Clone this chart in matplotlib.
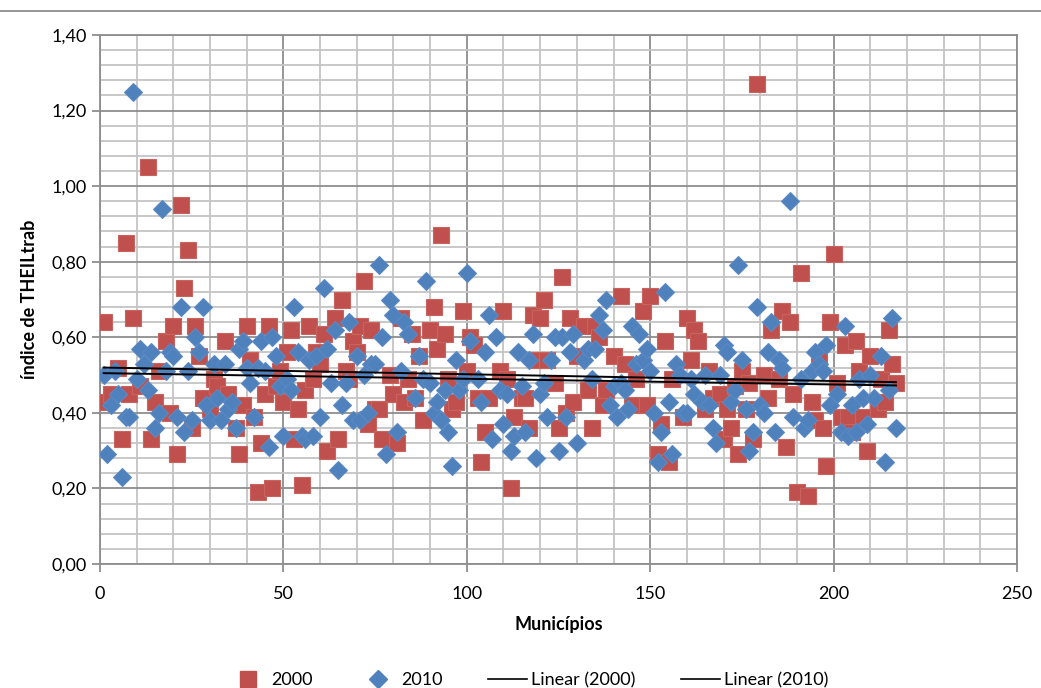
import numpy as np
import matplotlib
matplotlib.use("Agg")
import matplotlib.pyplot as plt
from matplotlib.lines import Line2D
from matplotlib.ticker import MultipleLocator, FuncFormatter

# ---- data ----
x2000 = [1, 2, 3, 5, 6, 7, 8, 9, 11, 13, 14, 15, 16, 18, 19, 20, 21, 22, 23, 24, 25, 26, 27, 28, 30, 31, 32, 34, 35, 37, 38,
         39, 40, 41, 42, 43, 44, 45, 46, 47, 48, 49, 50, 51, 52, 53, 54, 55, 56, 57, 58, 59, 60, 61, 62, 64, 65, 66, 67, 68, 69, 70, 71, 72, 73, 74, 75, 76, 77,
         79, 80, 81, 82, 83, 84, 85, 86, 87, 88, 90, 91, 92, 93, 94, 95, 96, 97, 99, 100, 101, 102, 103, 104, 105, 106, 109, 110, 111, 112, 113, 115,
         116, 117, 118, 119, 120, 121, 122, 124, 125, 126, 127, 128, 129, 130, 132, 133, 134, 135, 136, 137, 138, 140, 142, 143, 145, 146, 148, 149, 150, 152, 153, 154, 155, 156,
         159, 160, 161, 162, 163, 165, 166, 167, 169, 170, 171, 172, 173, 174, 175, 176, 177, 178, 179, 181, 182, 183, 185, 186, 187, 188, 189, 190, 191, 193, 194, 195,
         196, 197, 198, 199, 200, 201, 202, 203, 204, 205, 206, 207, 208, 209, 210, 212, 213, 214, 215, 216, 217]
y2000 = [0.64, 0.43, 0.45, 0.52, 0.33, 0.85, 0.45, 0.65, 0.47, 1.05, 0.33, 0.43, 0.51, 0.59, 0.40, 0.63, 0.29, 0.95, 0.73, 0.83, 0.36, 0.63, 0.55, 0.44, 0.41, 0.49, 0.47, 0.59, 0.45, 0.36, 0.29,
         0.42, 0.63, 0.54, 0.39, 0.19, 0.32, 0.45, 0.63, 0.20, 0.47, 0.51, 0.43, 0.56, 0.62, 0.33, 0.41, 0.21, 0.46, 0.63, 0.49, 0.56, 0.53, 0.61, 0.30, 0.65, 0.33, 0.70, 0.51, 0.49, 0.59, 0.56, 0.63, 0.75, 0.37, 0.62, 0.41, 0.41, 0.33,
         0.50, 0.45, 0.32, 0.65, 0.43, 0.49, 0.61, 0.44, 0.55, 0.38, 0.62, 0.68, 0.57, 0.87, 0.61, 0.49, 0.41, 0.43, 0.67, 0.51, 0.60, 0.58, 0.44, 0.27, 0.35, 0.44, 0.51, 0.67, 0.49, 0.20, 0.39, 0.44,
         0.44, 0.36, 0.66, 0.54, 0.65, 0.70, 0.54, 0.48, 0.36, 0.76, 0.40, 0.65, 0.43, 0.55, 0.63, 0.46, 0.36, 0.63, 0.60, 0.42, 0.46, 0.55, 0.71, 0.53, 0.42, 0.49, 0.67, 0.42, 0.71, 0.29, 0.37, 0.59, 0.27, 0.49,
         0.39, 0.65, 0.54, 0.62, 0.59, 0.41, 0.51, 0.44, 0.45, 0.33, 0.41, 0.36, 0.47, 0.29, 0.51, 0.41, 0.48, 0.33, 1.27, 0.50, 0.44, 0.62, 0.49, 0.67, 0.31, 0.64, 0.45, 0.19, 0.77, 0.18, 0.43, 0.38,
         0.55, 0.36, 0.26, 0.64, 0.82, 0.48, 0.39, 0.58, 0.39, 0.35, 0.59, 0.51, 0.39, 0.30, 0.55, 0.41, 0.49, 0.43, 0.62, 0.53, 0.48]

x2010 = [1, 2, 3, 4, 5, 6, 7, 8, 9, 10, 11, 12, 13, 14, 15, 16, 17, 18, 19, 20, 21, 22, 23, 24, 25, 26, 27, 28, 29, 30, 31, 32, 33, 34, 35, 36, 37, 38,
         39, 40, 41, 42, 43, 44, 45, 46, 47, 48, 49, 50, 51, 52, 53, 54, 55, 56, 57, 58, 59, 60, 61, 62, 63, 64, 65, 66, 67, 68, 69, 70, 71, 72, 73, 74, 75, 76, 77, 78,
         79, 80, 81, 82, 83, 84, 86, 87, 88, 89, 90, 91, 92, 93, 94, 95, 96, 97, 98, 99, 100, 101, 103, 104, 105, 106, 107, 108, 109, 110, 111, 112, 113, 114, 115, 116,
         117, 118, 119, 120, 121, 122, 123, 124, 125, 126, 127, 128, 129, 130, 132, 133, 134, 135, 136, 137, 138, 139, 140, 141, 142, 143, 144, 145, 146, 147, 148, 149, 150, 151, 152, 153, 154, 155, 156, 157,
         158, 159, 160, 161, 162, 164, 165, 166, 167, 168, 169, 170, 171, 172, 173, 174, 175, 176, 177, 178, 179, 180, 181, 182, 183, 184, 185, 186, 188, 189, 191, 192, 193, 194, 195, 196, 197, 198, 199,
         201, 202, 203, 204, 205, 206, 207, 208, 209, 210, 211, 213, 214, 215, 216, 217]
y2010 = [0.50, 0.29, 0.42, 0.51, 0.45, 0.23, 0.39, 0.39, 1.25, 0.49, 0.57, 0.53, 0.46, 0.56, 0.36, 0.40, 0.94, 0.51, 0.56, 0.55, 0.39, 0.68, 0.35, 0.51, 0.38, 0.60, 0.56, 0.68, 0.42, 0.38, 0.53, 0.44, 0.38, 0.53, 0.41, 0.43, 0.36, 0.57,
         0.59, 0.52, 0.48, 0.39, 0.52, 0.59, 0.51, 0.31, 0.60, 0.55, 0.47, 0.34, 0.49, 0.46, 0.68, 0.56, 0.34, 0.33, 0.54, 0.34, 0.55, 0.39, 0.73, 0.57, 0.48, 0.62, 0.25, 0.42, 0.48, 0.64, 0.38, 0.55, 0.38, 0.50, 0.40, 0.53, 0.53, 0.79, 0.60, 0.29,
         0.70, 0.66, 0.35, 0.51, 0.64, 0.61, 0.44, 0.55, 0.49, 0.75, 0.48, 0.40, 0.43, 0.38, 0.46, 0.35, 0.26, 0.54, 0.46, 0.49, 0.77, 0.59, 0.49, 0.43, 0.56, 0.66, 0.33, 0.60, 0.46, 0.37, 0.45, 0.30, 0.34, 0.56, 0.47, 0.35,
         0.54, 0.61, 0.28, 0.45, 0.48, 0.39, 0.54, 0.60, 0.30, 0.60, 0.39, 0.56, 0.61, 0.32, 0.54, 0.57, 0.49, 0.57, 0.66, 0.62, 0.70, 0.42, 0.47, 0.39, 0.48, 0.46, 0.41, 0.63, 0.53, 0.61, 0.54, 0.57, 0.51, 0.40, 0.27, 0.35, 0.72, 0.43, 0.29, 0.53,
         0.50, 0.40, 0.40, 0.49, 0.45, 0.43, 0.50, 0.42, 0.36, 0.32, 0.50, 0.58, 0.56, 0.43, 0.46, 0.79, 0.54, 0.41, 0.30, 0.35, 0.68, 0.42, 0.40, 0.56, 0.64, 0.35, 0.54, 0.52, 0.96, 0.39, 0.49, 0.36, 0.38, 0.51, 0.56, 0.53, 0.51, 0.58, 0.42,
         0.45, 0.35, 0.63, 0.34, 0.42, 0.35, 0.49, 0.44, 0.37, 0.50, 0.44, 0.55, 0.27, 0.46, 0.65, 0.36]

series_labels = ["2000", "2010", "Linear (2000)", "Linear (2010)"]
x_label = "Municípios"
y_label = "índice de THEILtrab"

RED = "#C0504D"
BLUE = "#4F81BD"
FONT = ["Lato", "DejaVu Sans"]

plt.rcParams["font.family"] = FONT

fig = plt.figure(figsize=(10.41, 6.88), dpi=100)
ax = fig.add_axes([100 / 1041, 1 - 564 / 688, (1017 - 100) / 1041, (564 - 35) / 688])

ax.set_xlim(0, 250)
ax.set_ylim(0, 1.4)
ax.xaxis.set_major_locator(MultipleLocator(50))
ax.xaxis.set_minor_locator(MultipleLocator(10))
ax.yaxis.set_major_locator(MultipleLocator(0.2))
ax.yaxis.set_minor_locator(MultipleLocator(0.04))
ax.yaxis.set_major_formatter(FuncFormatter(lambda v, p: f"{v:.2f}".replace(".", ",")))

ax.grid(True, which="major", color="#8e8e8e", linewidth=1.3)
ax.grid(True, which="minor", color="#c4c4c4", linewidth=1.3)
ax.set_axisbelow(True)
for s in ax.spines.values():
    s.set_color("#8e8e8e")
    s.set_linewidth(1.3)
ax.tick_params(which="major", length=6, color="#8e8e8e", labelsize=13, width=1.3)
ax.tick_params(axis="x", which="major", pad=10)
ax.tick_params(which="minor", length=0)

ax.plot(x2000, y2000, linestyle="none", marker="s", markersize=11.5,
        color=RED, markeredgecolor="#c8635f", markeredgewidth=0.8, label=series_labels[0], zorder=3)
ax.plot(x2010, y2010, linestyle="none", marker="D", markersize=8.8,
        color=BLUE, markeredgecolor="#5a8ac4", markeredgewidth=0.8, label=series_labels[1], zorder=4)

for xs, ys, lab in [(x2000, y2000, series_labels[2]), (x2010, y2010, series_labels[3])]:
    k, b = np.polyfit(xs, ys, 1)
    xx = np.array([min(xs), max(xs)])
    ax.plot(xx, k * xx + b, color="black", linewidth=1.4, label=lab, zorder=5)

ax.set_xlabel(x_label, fontsize=13, fontweight="bold", labelpad=10)
ax.set_ylabel(y_label, fontsize=13, fontweight="bold", labelpad=10)

handles = [
    Line2D([], [], linestyle="none", marker="s", markersize=11.5, color=RED),
    Line2D([], [], linestyle="none", marker="D", markersize=8.8, color=BLUE),
    Line2D([], [], color="black", linewidth=1.2),
    Line2D([], [], color="black", linewidth=1.2),
]
fig.legend(handles, series_labels, loc="center", bbox_to_anchor=(528 / 1041, 1 - 680 / 688),
           ncol=4, frameon=False, fontsize=13, handlelength=2.2, handletextpad=0.2, columnspacing=2.5)

fig.add_artist(Line2D([0, 1], [1 - 11 / 688, 1 - 11 / 688], color="#8e8e8e", linewidth=1.3,
                      transform=fig.transFigure))

fig.savefig("out.png", dpi=100)
